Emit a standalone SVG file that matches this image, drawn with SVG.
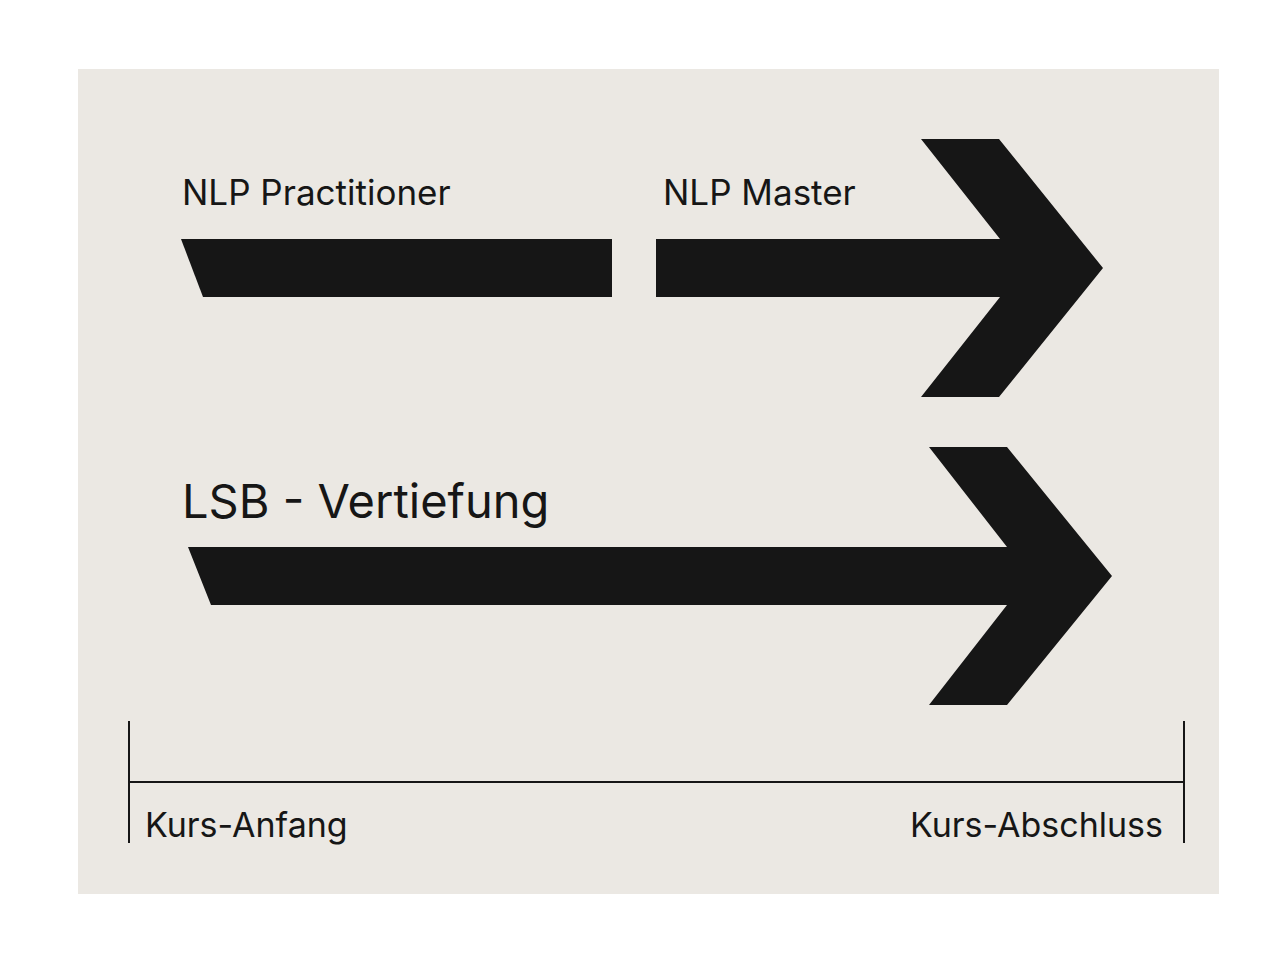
<svg xmlns="http://www.w3.org/2000/svg" width="1283" height="958" viewBox="0 0 1283 958">
<style>
.t{font-family:"Inter","Liberation Sans",sans-serif;fill:#161616}
.s{fill:#161616}
.l{stroke:#161616;stroke-width:2;fill:none}
</style>
<rect width="1283" height="958" fill="#ffffff"/>
<rect x="78" y="69" width="1141" height="825" fill="#ebe8e3"/>
<g id="practitioner">
<polygon class="s" points="181,239 612,239 612,297 203,297"/>
<text class="t" x="182" y="205" font-size="35">NLP Practitioner</text>
</g>
<g id="master">
<polygon class="s" points="656,239 1000,239 921,139 999,139 1103,268 999,397 921,397 1000,297 656,297"/>
<text class="t" x="663" y="205" font-size="35">NLP Master</text>
</g>
<g id="lsb">
<polygon class="s" points="188,547 1007,547 929,447 1007,447 1112,576 1007,705 929,705 1007,605 211,605"/>
<text class="t" x="182" y="518" font-size="47">LSB - Vertiefung</text>
</g>
<g id="connectors">
<line class="l" x1="129" y1="782" x2="1184" y2="782"/>
<line class="l" x1="129" y1="721" x2="129" y2="843"/>
<line class="l" x1="1184" y1="721" x2="1184" y2="843"/>
</g>
<g id="labels">
<text class="t" x="145" y="837" font-size="34">Kurs-Anfang</text>
<text class="t" x="1163" y="837" font-size="34" text-anchor="end">Kurs-Abschluss</text>
</g>
</svg>
